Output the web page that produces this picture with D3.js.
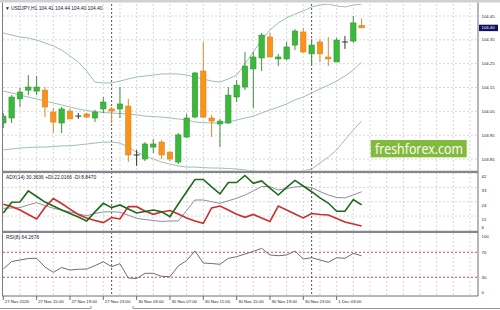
<!DOCTYPE html>
<html>
<head>
<meta charset="utf-8">
<script src="https://cdn.jsdelivr.net/npm/d3@7"></script>
<style>
body{margin:0;background:#fff;}
svg{display:block;font-family:"Liberation Sans",Arial,sans-serif;}
</style>
</head>
<body>
<svg id="chart" width="500" height="310"></svg>
<script>
//USDJPY H1 bars, 27 Nov 11:00 -> 1 Dec 06:00
const opens  = [104.001,104.022,104.102,104.139,104.135,104.139,104.047,104.001,104.051,104.030,104.039,104.022,104.060,104.060,104.060,104.072,103.867,103.850,103.900,103.921,103.879,103.837,103.942,104.026,104.219,104.022,103.997,104.001,104.110,104.152,104.228,104.274,104.362,104.270,104.270,104.328,104.383,104.291,104.341,104.278,104.257,104.341,104.345,104.410];
const highs  = [104.043,104.118,104.148,104.202,104.198,104.152,104.064,104.068,104.060,104.043,104.043,104.056,104.110,104.068,104.152,104.102,103.888,103.921,103.934,103.930,103.883,103.959,104.039,104.215,104.341,104.035,104.018,104.152,104.181,104.299,104.299,104.379,104.379,104.291,104.341,104.395,104.400,104.353,104.353,104.362,104.358,104.366,104.450,104.440];
const lows   = [103.980,104.001,104.068,104.118,104.118,104.026,103.959,103.959,104.018,104.018,104.022,104.005,104.043,104.001,104.022,103.837,103.821,103.841,103.875,103.850,103.841,103.829,103.938,104.022,104.022,103.942,103.900,103.997,104.089,104.139,104.064,104.219,104.278,104.240,104.265,104.307,104.295,104.244,104.257,104.240,104.257,104.312,104.337,104.400];
const closes = [104.030,104.110,104.131,104.152,104.152,104.068,104.005,104.060,104.018,104.030,104.026,104.047,104.089,104.051,104.081,103.867,103.867,103.913,103.913,103.867,103.850,103.951,104.022,104.211,104.026,104.009,104.009,104.118,104.160,104.240,104.278,104.370,104.278,104.278,104.320,104.387,104.299,104.328,104.291,104.270,104.349,104.341,104.421,104.400];

//Bollinger bands
const bbUpper  = [104.379,104.370,104.362,104.358,104.349,104.337,104.324,104.307,104.282,104.257,104.219,104.173,104.169,104.169,104.177,104.186,104.194,104.198,104.202,104.207,104.207,104.207,104.202,104.194,104.186,104.177,104.173,104.186,104.202,104.249,104.299,104.349,104.391,104.421,104.442,104.458,104.471,104.488,104.496,104.500,104.492,104.488,104.496,104.500];
const bbMiddle = [104.135,104.127,104.118,104.110,104.102,104.093,104.085,104.077,104.068,104.060,104.053,104.049,104.045,104.043,104.041,104.039,104.035,104.030,104.028,104.026,104.022,104.018,104.014,104.005,104.003,104.001,104.001,104.005,104.014,104.022,104.030,104.043,104.056,104.068,104.081,104.098,104.110,104.127,104.144,104.160,104.177,104.198,104.223,104.257];
const bbLower  = [103.888,103.892,103.896,103.898,103.900,103.900,103.902,103.905,103.905,103.909,103.913,103.917,103.921,103.921,103.917,103.900,103.879,103.863,103.850,103.837,103.829,103.821,103.816,103.816,103.814,103.812,103.812,103.810,103.808,103.804,103.800,103.795,103.791,103.787,103.787,103.791,103.800,103.808,103.833,103.858,103.888,103.930,103.972,104.009];

//ADX(14)
const adxMain = [19.9,20.1,20.3,22.0,23.4,21.6,19.9,18.8,17.6,16.3,15.2,16.6,17.6,17.7,17.4,15.5,13.6,12.8,12.2,11.6,11.9,11.9,18.5,25.1,25.1,24.0,23.0,24.6,26.2,28.2,30.8,33.6,33.5,31.4,32.3,33.3,33.6,32.8,30.4,28.2,26.7,26.4,28.2,30.3];
const plusDI  = [16.9,23.7,23.8,30.8,27.3,23.8,21.3,18.8,16.6,14.4,11.9,17.6,23.0,20.3,22.0,19.4,16.9,17.9,18.8,17.7,14.6,22.6,30.3,38.0,38.0,33.3,28.9,36.1,36.1,40.5,35.6,37.1,32.6,28.2,33.0,37.4,33.9,30.3,26.4,23.2,18.0,18.0,25.4,22.0];
const minusDI = [22.4,21.0,18.8,16.0,13.2,20.4,26.0,22.9,19.4,16.0,13.8,12.2,10.9,14.1,13.2,20.9,20.9,18.2,16.1,17.6,18.5,16.3,13.8,11.9,10.4,20.1,21.3,18.8,16.1,14.2,16.0,13.8,11.6,21.3,18.8,16.3,13.8,16.6,16.0,15.7,13.5,11.3,10.0,8.8];

//RSI(8)
const rsi = [43.2,55.2,57.6,60.0,60.3,46.4,37.9,45.6,41.6,42.7,43.2,48.5,54.9,46.9,51.7,28.8,28.0,36.3,36.3,31.5,30.9,48.0,56.8,72.0,52.8,52.0,50.7,60.3,62.9,67.2,71.2,76.3,65.6,64.5,65.6,72.0,59.2,61.3,57.6,53.9,61.3,60.3,68.3,64.3];

const priceTicks = [104.45,104.35,104.25,104.15,104.05,103.95,103.85];
const adxTicks = [42,33,24,15,6];
const rsiTicks = [100,70,30,0];
const rsiLevels = [70,30];
const timeLabels = ["27 Nov 2020","27 Nov 15:00","27 Nov 19:00","27 Nov 23:00","30 Nov 03:00","30 Nov 07:00","30 Nov 11:00","30 Nov 15:00","30 Nov 19:00","30 Nov 23:00","1 Dec 03:00"];
const timeLabelBars = [0,4,8,12,16,20,24,28,32,36,40];
const separatorBars = [13,37];

const LEFT = 3, RIGHT = 478;
const panels = {
    main: {top: 4, bottom: 170.5},
    adx: {top: 173, bottom: 230.5},
    rsi: {top: 233, bottom: 296}
};

const svg = d3.select("#chart");
const x = d3.scaleLinear().domain([0, 57]).range([3.3, 478.3]);
const yPrice = d3.scaleLinear().domain([103.85, 104.45]).range([159, 16]);
const yAdx = d3.scaleLinear().domain([5.6, 42.7]).range([231, 172]);
const yRsi = d3.scaleLinear().domain([0, 100]).range([296, 233.5]);
const idx = d3.range(opens.length);

//Clip each panel
const defs = svg.append("defs");
for (let key in panels){
    defs.append("clipPath").attr("id", "clip-" + key)
        .append("rect")
        .attr("x", LEFT).attr("y", panels[key].top)
        .attr("width", RIGHT - LEFT).attr("height", panels[key].bottom - panels[key].top);
}

//Grid
const grid = svg.append("g").attr("stroke", "#d6d6d6").attr("stroke-dasharray", "2,2").attr("stroke-width", 1);
let gx = d3.range(1, 29).map(k => 3.3 + k * 16.667).filter(v => v < RIGHT);
for (let key in panels){
    grid.selectAll(null).data(gx).enter().append("line")
        .attr("x1", d => d).attr("x2", d => d)
        .attr("y1", panels[key].top).attr("y2", panels[key].bottom);
}
grid.selectAll(null).data(priceTicks).enter().append("line")
    .attr("x1", LEFT).attr("x2", RIGHT).attr("y1", d => yPrice(d)).attr("y2", d => yPrice(d));
grid.selectAll(null).data(adxTicks.slice(0, 4)).enter().append("line")
    .attr("x1", LEFT).attr("x2", RIGHT).attr("y1", d => yAdx(d)).attr("y2", d => yAdx(d));

//RSI levels
svg.append("g").selectAll("line").data(rsiLevels).enter().append("line")
    .attr("x1", LEFT).attr("x2", RIGHT).attr("y1", d => yRsi(d)).attr("y2", d => yRsi(d))
    .attr("stroke", "#c0504d").attr("stroke-dasharray", "2,2").attr("stroke-width", 1);

//Period separators
svg.append("g").selectAll("line").data(separatorBars).enter().append("line")
    .attr("x1", d => x(d)).attr("x2", d => x(d))
    .attr("y1", panels.main.top).attr("y2", panels.rsi.bottom)
    .attr("stroke", "#505050").attr("stroke-dasharray", "2,2").attr("stroke-width", 1);

//Main panel: bands + candles
const main = svg.append("g").attr("clip-path", "url(#clip-main)");
const band = d3.line().x((d, i) => x(i)).y(d => yPrice(d));
[bbUpper, bbMiddle, bbLower].forEach(arr => {
    main.append("path").attr("d", band(arr))
        .attr("fill", "none").attr("stroke", "#9dbfb2").attr("stroke-width", 1);
});

const BODY = 5.4;
let candles = main.selectAll("g.c").data(idx).enter().append("g");
candles.each(function(i){
    let g = d3.select(this);
    let up = closes[i] > opens[i], doji = Math.abs(closes[i] - opens[i]) < 0.0005;
    let wickColor = doji ? "#333" : (up ? "#3f8f3f" : "#d98a34");
    g.append("line")
        .attr("x1", x(i)).attr("x2", x(i))
        .attr("y1", yPrice(highs[i])).attr("y2", yPrice(lows[i]))
        .attr("stroke", wickColor).attr("stroke-width", 1);
    if (doji){
        g.append("line")
            .attr("x1", x(i) - 3).attr("x2", x(i) + 3)
            .attr("y1", yPrice(opens[i])).attr("y2", yPrice(opens[i]))
            .attr("stroke", "#333").attr("stroke-width", 1);
        return;
    }
    let top = yPrice(Math.max(opens[i], closes[i]));
    let bot = yPrice(Math.min(opens[i], closes[i]));
    g.append("rect")
        .attr("x", x(i) - BODY / 2).attr("y", top)
        .attr("width", BODY).attr("height", Math.max(1.5, bot - top))
        .attr("fill", up ? "#3cb83c" : "#f7941d")
        .attr("stroke", up ? "#2f9a2f" : "#e0821a").attr("stroke-width", 0.6);
});

//ADX panel
const adxG = svg.append("g").attr("clip-path", "url(#clip-adx)");
const adxLine = d3.line().x((d, i) => x(i)).y(d => yAdx(d));
adxG.append("path").attr("d", adxLine(adxMain)).attr("fill", "none").attr("stroke", "#8c8ca4").attr("stroke-width", 1);
adxG.append("path").attr("d", adxLine(minusDI)).attr("fill", "none").attr("stroke", "#cc2e2e").attr("stroke-width", 1.6);
adxG.append("path").attr("d", adxLine(plusDI)).attr("fill", "none").attr("stroke", "#1d6a1d").attr("stroke-width", 1.6);

//RSI panel
const rsiG = svg.append("g").attr("clip-path", "url(#clip-rsi)");
rsiG.append("path")
    .attr("d", d3.line().x((d, i) => x(i)).y(d => yRsi(d))(rsi))
    .attr("fill", "none").attr("stroke", "#6e6e6e").attr("stroke-width", 1);

//Frame
const frame = svg.append("g");
frame.append("rect").attr("x", 0).attr("y", 0).attr("width", 500).attr("height", 2.5).attr("fill", "#d0d0d4");
frame.append("line").attr("x1", LEFT - 0.5).attr("x2", LEFT - 0.5).attr("y1", 2.5).attr("y2", panels.rsi.bottom).attr("stroke", "#7a7a80");
frame.append("line").attr("x1", RIGHT).attr("x2", RIGHT).attr("y1", 2.5).attr("y2", panels.rsi.bottom).attr("stroke", "#6c6c78");
frame.append("line").attr("x1", LEFT - 1).attr("x2", RIGHT).attr("y1", panels.rsi.bottom).attr("y2", panels.rsi.bottom).attr("stroke", "#6c6c78");
[171.8, 231.8].forEach(yy => {
    frame.append("line").attr("x1", LEFT - 1).attr("x2", RIGHT).attr("y1", yy).attr("y2", yy)
        .attr("stroke", "#86868f").attr("stroke-width", 2.2);
});
//tab bar
frame.append("path").attr("d", "M0,308.5H91V306M133,306V308.5H500").attr("fill", "none").attr("stroke", "#9a9a9a");

//Axis labels
const txt = svg.append("g").attr("fill", "#1a1a2e").attr("font-size", 4.3);
txt.selectAll(null).data(priceTicks).enter().append("text")
    .attr("x", 481.5).attr("y", d => yPrice(d)).attr("dy", "0.35em").text(d => d.toFixed(2));
txt.selectAll(null).data(adxTicks).enter().append("text")
    .attr("x", 481.5).attr("y", d => Math.min(yAdx(d) + 3.5, 227.5)).attr("dy", "0.35em").text(d => d);
txt.selectAll(null).data(rsiTicks).enter().append("text")
    .attr("x", 481.5).attr("y", d => Math.min(Math.max(yRsi(d), 236), 292.7)).attr("dy", "0.35em").text(d => d);
svg.append("g").attr("stroke", "#6c6c78").selectAll("line").data(timeLabelBars).enter().append("line")
    .attr("x1", d => x(d)).attr("x2", d => x(d)).attr("y1", panels.rsi.bottom).attr("y2", 300);
txt.selectAll(null).data(timeLabels).enter().append("text")
    .attr("x", (d, i) => x(timeLabelBars[i]) + 1.5).attr("y", 302.6)
    .text(d => d);

//Current price marker
let last = closes[closes.length - 1];
svg.append("rect").attr("x", 479).attr("y", yPrice(last) - 3.2).attr("width", 19).attr("height", 6.4).attr("fill", "#101062");
svg.append("text").attr("x", 481.5).attr("y", yPrice(last)).attr("dy", "0.35em")
    .attr("font-size", 4.3).attr("fill", "#fff").text(last.toFixed(2));

//Indicator titles
const titles = svg.append("g").attr("fill", "#1a1a2e").attr("font-size", 4.9);
titles.append("text").attr("x", 5).attr("y", 9.5).text("\u25BC");
titles.append("text").attr("x", 11).attr("y", 9.5)
    .text(`USDJPY,H1 ${opens[43].toFixed(2)} ${highs[43].toFixed(2)} ${lows[43].toFixed(2)} ${closes[43].toFixed(2)}`);
titles.append("text").attr("x", 6).attr("y", 178.5)
    .text("ADX(14) 30.3636 +DI:22.0166 -DI:8.8470");
titles.append("text").attr("x", 6).attr("y", 239)
    .text("RSI(8) 64.2676");

//Watermark
svg.append("rect").attr("x", 370.7).attr("y", 140).attr("width", 96).attr("height", 17.3).attr("fill", "#82bb3c");
svg.append("text").attr("x", 375).attr("y", 153.6)
    .attr("font-family", "'Open Sans', sans-serif").attr("font-size", 14)
    .attr("textLength", 88).attr("lengthAdjust", "spacingAndGlyphs")
    .attr("fill", "#fff").text("freshforex.com");
</script>
</body>
</html>
